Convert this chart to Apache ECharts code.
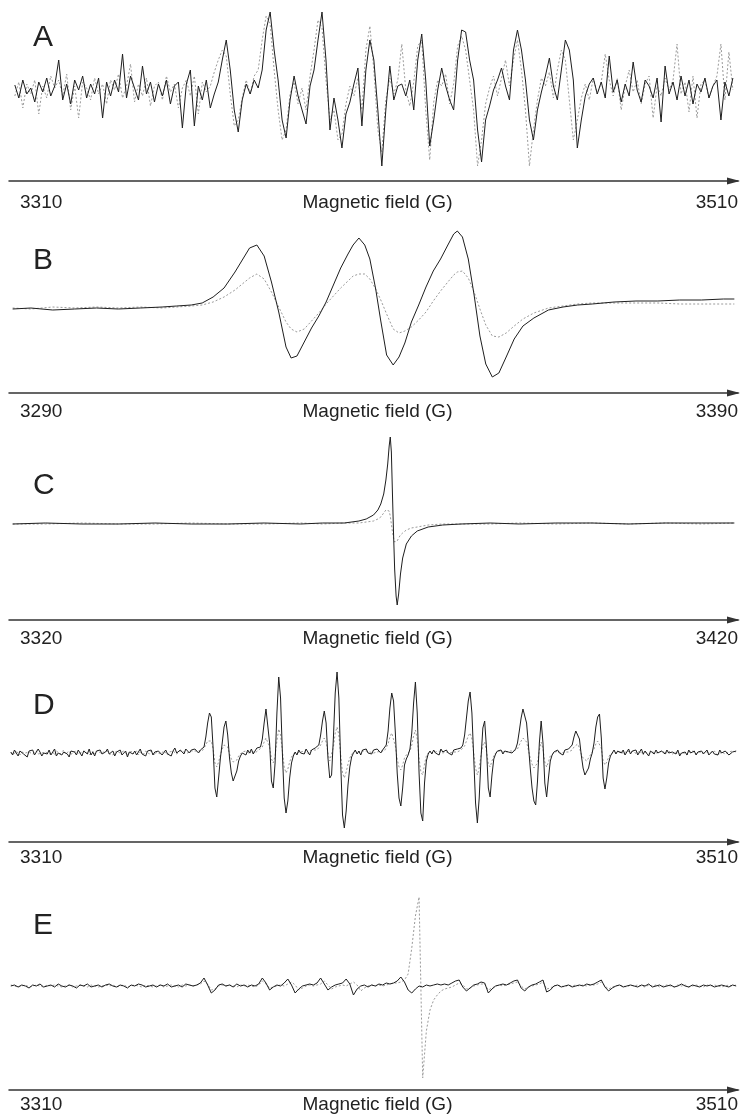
<!DOCTYPE html>
<html>
<head>
<meta charset="utf-8">
<title>EPR spectra</title>
<script src="https://cdn.jsdelivr.net/npm/echarts@6/dist/echarts.min.js"></script>
<style>
    html, body { margin: 0; padding: 0; background: #fff; }
    #chart { width: 742px; height: 1114px; }
</style>
</head>
<body>
<div id="chart"></div>
<script>
// axis end labels of each panel (G)
var ticksA = [3310, 3510];
var ticksB = [3290, 3390];
var ticksC = [3320, 3420];
var ticksD = [3310, 3510];
var ticksE = [3310, 3510];
var fieldName = 'Magnetic field (G)';

// A: evenly swept field, first and last point
var sweepA = [3311.6, 3508.6];
var solidA = [
    5,-8,10,-4,2,-12,8,-2,12,-6,4,30,-10,6,-14,10,0,14,-8,6,
    -4,12,-28,8,-6,10,-2,36,-8,14,2,-10,24,-4,8,-12,6,-6,10,-14,
    4,8,-38,6,20,-36,4,-10,10,-18,-4,8,30,50,20,-20,-42,-10,6,-4,
    10,2,20,60,78,40,10,-30,-48,-10,14,-6,-20,-34,4,20,50,78,30,-40,
    -8,-30,-58,-24,-12,6,22,-36,20,50,30,-20,-76,-20,24,-10,4,6,-6,10,
    -20,30,56,10,-56,-30,0,22,4,-10,-20,30,60,58,30,10,-40,-72,-30,-16,
    0,10,22,4,-10,40,60,40,10,-30,-50,-20,-2,14,32,4,-10,20,50,40,
    10,-58,-30,-6,6,12,-4,8,-8,34,-2,10,-12,6,-6,28,0,-12,10,4,
    -8,12,-32,24,-4,8,-10,14,-6,10,-14,6,-2,12,-8,4,10,-30,8,-6,
    12
];
var dottedA = [
    -6,8,-18,6,-4,10,-24,4,-8,14,2,10,-6,16,-20,4,-28,8,2,-10,
    12,-4,6,-14,10,0,16,-8,4,26,-12,6,-6,12,-16,4,8,-10,14,-2,
    6,-18,2,10,-6,14,-24,8,-2,4,18,30,40,34,-4,-36,-30,-8,10,-4,
    14,20,50,74,66,20,-20,-50,-40,-4,8,-14,2,-20,14,40,70,62,10,-30,
    -20,-50,-44,-14,4,-6,12,-20,40,64,20,-40,-62,-10,12,-4,10,46,0,-16,
    8,44,50,-20,-70,-12,10,4,16,-14,6,44,54,40,10,-20,-76,-50,-14,2,
    14,-6,12,30,4,30,50,20,-20,-76,-40,-10,12,4,18,-8,20,40,30,-10,
    -50,-30,-8,6,-10,12,-4,8,36,10,-6,12,-20,4,20,-2,10,-14,6,14,
    -28,4,-6,12,0,10,46,-4,8,-22,14,-28,6,10,-8,4,14,46,-10,38,
    0
];

// B: three broad lines
var fieldB = [
    3290.5, 3293, 3296, 3299, 3302, 3305, 3308, 3311, 3313, 3315,
    3316.5, 3318, 3319.5, 3321, 3322, 3323, 3324, 3325, 3326, 3327,
    3328, 3328.7, 3329.5, 3330.5, 3331.5, 3332.5, 3333.5, 3334.5, 3335.5, 3336.5,
    3337.2, 3338, 3338.8, 3339.5, 3340.3, 3341, 3341.8, 3342.7, 3343.5, 3344.3,
    3345.2, 3346.2, 3347.2, 3348.2, 3349.2, 3350.2, 3351, 3351.5, 3352.2, 3353,
    3353.8, 3354.6, 3355.4, 3356.3, 3357.2, 3358.2, 3359.3, 3360.5, 3362, 3364,
    3366, 3368, 3370, 3373, 3376, 3379, 3382, 3385, 3388, 3389.5
];
var solidB = [
    0, 1, -1, 0, 1, 0, 1, 2, 3, 4,
    6, 12, 21, 37, 49, 61, 64, 53, 27, -3,
    -38, -49, -47, -33, -19, -7, 7, 24, 41, 55,
    64, 71, 64, 50, 20, -12, -46, -56, -48, -34,
    -13, 4, 22, 38, 50, 64, 75, 78, 72, 50,
    14, -27, -55, -68, -64, -48, -30, -17, -9, -1,
    2, 4, 5, 7, 8, 8, 9, 9, 10, 10
];
var dottedB = [
    1, 0, 2, 1, 2, 1, 2, 1, 2, 3,
    4, 7, 12, 19, 25, 31, 35, 30, 17, 2,
    -13, -20, -23, -20, -12, -4, 5, 13, 21, 28,
    33, 35, 35, 30, 20, 9, -5, -20, -24, -22,
    -18, -11, -3, 8, 18, 27, 34, 37, 38, 31,
    17, 0, -16, -27, -28, -24, -17, -10, -4, 1,
    3, 5, 6, 6, 6, 6, 5, 5, 5, 5
];

// C: one narrow line
var fieldC = [
    3320.5, 3325, 3330, 3335, 3340, 3345, 3350, 3355, 3360, 3363,
    3366, 3368, 3369, 3370, 3370.6, 3371, 3371.4, 3371.7, 3371.95, 3372.15,
    3372.3, 3372.45, 3372.6, 3372.75, 3372.9, 3373.1, 3373.25, 3373.45, 3373.7, 3374,
    3374.5, 3375.2, 3376, 3377.5, 3379.5, 3382, 3386, 3390, 3395, 3400,
    3405, 3410, 3415, 3419.5
];
var solidC = [
    0, 1, 0, 0, 1, 0, 0, 1, 0, 1,
    1, 3, 5, 9, 14, 20, 30, 44, 60, 78,
    87, 72, 30, -10, -45, -72, -81, -70, -50, -34,
    -20, -12, -7, -3, -1, 0, 1, 0, 1, 1,
    0, 1, 1, 1
];
var dottedC = [
    0, 0, 1, 0, 0, 1, 0, 0, 1, 0,
    1, 1, 2, 3, 5, 7, 11, 14, 16, 13,
    8, 0, -8, -14, -18, -19, -17, -14, -11, -9,
    -6, -4, -3, -1, 0, 0, 0, 1, 0, 1,
    0, 1, 0, 1
];

// D: seven doublets, 0.5 G steps
var sweepD = [3310.5, 3509.5];
var solidD = [
    1,-2,3,0,-3,2,4,-1,1,-4,2,0,3,-2,-1,4,1,-3,0,2,
    -1,3,-2,1,4,-3,0,2,-2,1,3,-1,-4,2,0,1,-2,3,1,-3,
    2,0,-1,4,-2,1,-3,2,0,3,-1,-2,1,4,-1,0,2,-3,1,-1,
    3,-2,0,2,-4,1,3,-1,2,-2,0,4,-1,1,-3,2,0,3,-2,1,
    -1,2,4,-2,0,3,-1,1,-3,2,5,0,-2,3,1,-1,4,2,0,3,
    1,4,2,0,3,2,6,16,30,40,36,5,-35,-44,-25,-5,10,26,32,18,
    -5,-20,-28,-29,-18,-8,-3,0,2,-2,3,0,4,-1,2,5,3,6,14,30,
    44,46,10,-28,-35,-10,40,76,55,0,-45,-60,-48,-25,-10,-3,1,-2,3,0,
    2,-1,4,1,-2,3,2,5,4,8,18,32,42,30,-5,-25,-22,15,60,81,
    55,-10,-62,-75,-58,-32,-14,-4,0,3,-1,2,-2,3,1,4,0,2,-1,3,
    1,4,2,0,3,2,8,22,45,60,52,20,-20,-45,-53,-35,-12,-6,-2,4,
    20,50,71,40,-20,-60,-68,-30,-8,-1,2,-1,3,0,2,-2,4,1,-1,3,
    0,2,-2,3,1,4,2,5,8,18,35,52,61,40,-5,-50,-70,-45,-5,25,
    32,5,-35,-44,-22,-6,-1,2,0,3,-1,2,4,1,3,0,2,4,10,22,
    35,44,46,30,8,-15,-35,-48,-52,-28,10,32,10,-30,-44,-25,-8,-2,1,-1,
    3,0,2,-2,3,1,4,3,8,16,22,24,14,-2,-15,-22,-23,-15,-6,0,
    10,26,36,39,15,-25,-36,-25,-10,-3,0,3,-1,2,4,0,3,-2,1,4,
    -1,2,0,3,-2,1,4,-1,2,0,-3,2,1,-1,3,0,-2,2,1,-1,
    3,0,-2,1,2,-1,3,-3,0,2,1,-2,3,0,-1,2,-2,1,0,2,
    -1,1,3,-2,0,2,-1,1,-2,3,0,-1,2,1,-2,0,1,-1,2
];
var dottedD = [
    0,1,-1,2,0,-2,1,2,0,-1,1,2,-1,0,2,-1,1,0,-2,1,
    2,-1,0,1,-2,2,0,-1,1,3,-1,0,2,-2,1,0,2,-1,0,1,
    -1,2,1,-2,0,2,-1,1,3,0,-2,1,0,2,-1,1,-2,0,2,1,
    0,-1,2,1,-2,0,2,-1,1,2,-2,1,0,-1,2,1,-1,2,0,-2,
    1,2,-1,0,2,1,-2,1,0,2,3,-1,1,2,0,1,2,0,1,2,
    1,2,1,2,1,2,4,8,12,14,12,4,-10,-14,-9,-2,4,8,10,6,
    -1,-6,-9,-10,-7,-3,-1,1,0,2,1,-1,2,1,0,2,3,3,6,11,
    15,16,6,-6,-10,-3,12,24,18,2,-14,-20,-16,-9,-4,-1,1,0,2,1,
    0,2,1,-1,2,1,3,2,3,5,8,12,15,11,0,-8,-7,6,20,26,
    18,-2,-20,-25,-19,-11,-5,-1,1,2,0,1,-1,2,1,2,0,1,2,0,
    2,1,0,2,1,2,4,9,16,20,18,7,-6,-14,-17,-12,-5,-2,0,2,
    8,17,23,14,-5,-19,-22,-11,-3,0,1,0,2,1,-1,2,1,0,2,1,
    1,0,2,1,2,1,2,3,4,7,12,17,20,14,0,-15,-22,-15,-2,8,
    11,2,-11,-14,-8,-3,0,1,2,0,1,2,1,0,2,1,2,1,4,8,
    12,15,16,11,3,-5,-11,-15,-17,-10,3,11,4,-9,-14,-9,-3,-1,0,1,
    2,1,0,2,1,2,1,2,3,6,8,9,5,-1,-5,-7,-8,-5,-2,0,
    4,9,12,13,5,-8,-12,-9,-4,-1,0,1,2,0,1,2,-1,1,2,0,
    1,0,2,-1,1,2,0,-2,1,2,-1,0,1,2,0,-1,1,0,2,-1,
    0,2,1,-1,0,1,2,-1,1,0,2,-2,1,0,2,1,-1,0,1,2,
    0,-1,1,2,0,-1,2,1,-2,0,1,2,-1,0,1,-1,2,0,1
];

// E: weak lines, 1 G steps
var sweepE = [3310.5, 3509.5];
var solidE = [
    0,1,-1,1,0,-2,1,0,2,-1,0,1,-1,2,0,-1,1,0,-2,1,
    0,2,-1,0,1,-1,1,2,0,-1,1,0,-2,1,0,2,1,-1,0,1,
    -1,1,0,2,-1,0,1,-1,2,1,0,1,3,8,1,-7,-4,1,2,0,
    1,-1,2,0,1,-1,1,0,2,8,3,-4,-1,1,0,3,7,1,-7,-3,
    0,1,2,1,3,8,2,-4,-1,1,2,3,7,2,-9,-3,0,1,-1,1,
    0,2,1,3,2,3,5,9,4,-4,-7,-3,0,-1,1,0,1,2,1,2,
    1,3,5,6,-1,-5,-2,1,2,4,3,-7,-3,0,1,2,1,3,5,6,
    -2,-5,-1,1,2,4,6,-6,-4,0,1,-1,0,1,-1,0,1,0,2,1,
    2,4,6,-1,-5,-2,0,1,-1,0,1,0,-1,1,0,2,-1,0,1,-1,
    0,1,-1,0,2,0,-1,1,0,-1,1,0,1,-1,0,1,0,-1,1,0
];
var dottedE = [
    1,0,-1,0,1,-1,0,1,0,-1,1,0,1,0,-1,0,1,-1,0,1,
    0,-1,1,0,-1,0,1,0,1,-1,0,1,-1,0,1,0,-1,1,0,-1,
    0,1,-1,0,1,0,-1,1,0,1,0,1,2,5,2,-4,-3,0,1,0,
    1,0,-1,1,0,1,0,-1,1,5,2,-2,-1,0,1,0,2,4,1,-4,
    -2,0,1,0,1,2,5,1,-3,-1,0,1,0,2,4,1,-5,-2,0,1,
    0,1,0,1,2,3,3,4,6,12,38,70,89,-92,-45,-24,-14,-9,-5,-3,
    -2,-1,1,3,1,-3,-2,0,1,2,2,-4,-2,0,1,0,1,2,3,4,
    0,-3,-1,0,1,2,4,-3,-2,0,1,0,-1,1,0,1,0,1,0,1,
    1,2,4,0,-3,-1,0,1,0,-1,1,0,1,0,-1,1,0,1,-1,0,
    1,0,-1,1,0,1,-1,0,1,0,-1,1,0,1,0,-1,0,1,0,1
];

function sweepPairs(sweep, values) {
    var data = [];
    var n = values.length;
    for (var i = 0; i < n; i++) {
        data.push([sweep[0] + (sweep[1] - sweep[0]) * i / (n - 1), values[i]]);
    }
    return data;
}

function fieldPairs(field, values) {
    var data = [];
    for (var i = 0; i < values.length; i++) {
        data.push([field[i], values[i]]);
    }
    return data;
}

var font = "'Liberation Sans', Arial, Helvetica, sans-serif";

// layout in px: grid top, axis line y, y range, label gap, letter top
var panels = [
    {letter: 'A', ticks: ticksA, top: 0, axisY: 181, yMin: -91, yMax: 90, gap: 12, letterTop: 18,
        solid: sweepPairs(sweepA, solidA), dotted: sweepPairs(sweepA, dottedA)},
    {letter: 'B', ticks: ticksB, top: 209, axisY: 393, yMin: -84, yMax: 100, gap: 9, letterTop: 241,
        solid: fieldPairs(fieldB, solidB), dotted: fieldPairs(fieldB, dottedB)},
    {letter: 'C', ticks: ticksC, top: 424, axisY: 620, yMin: -96, yMax: 100, gap: 9, letterTop: 466,
        solid: fieldPairs(fieldC, solidC), dotted: fieldPairs(fieldC, dottedC)},
    {letter: 'D', ticks: ticksD, top: 663, axisY: 842, yMin: -89, yMax: 90, gap: 6, letterTop: 686,
        solid: sweepPairs(sweepD, solidD), dotted: sweepPairs(sweepD, dottedD)},
    {letter: 'E', ticks: ticksE, top: 886, axisY: 1090, yMin: -104, yMax: 100, gap: 5, letterTop: 906,
        solid: sweepPairs(sweepE, solidE), dotted: sweepPairs(sweepE, dottedE)}
];

var dom = document.getElementById('chart');
var myChart = echarts.init(dom, null, {renderer: 'canvas'});

var option = {
    animation: false,
    backgroundColor: '#fff',
    title: [],
    grid: [],
    xAxis: [],
    yAxis: [],
    series: []
};

panels.forEach(function (p, k) {
    option.title.push({
        text: p.letter,
        left: 28,
        top: p.letterTop,
        textStyle: {fontSize: 30, fontWeight: 'normal', color: '#222', fontFamily: font}
    });
    option.grid.push({
        left: 9,
        right: 4,
        top: p.top,
        height: p.axisY - p.top,
        outerBoundsMode: 'none'
    });
    option.xAxis.push({
        gridIndex: k,
        type: 'value',
        min: p.ticks[0],
        max: p.ticks[1],
        interval: p.ticks[1] - p.ticks[0],
        axisLine: {
            show: true,
            onZero: false,
            symbol: ['none', 'triangle'],
            symbolSize: [7, 13],
            symbolOffset: [0, -4.5],
            lineStyle: {color: '#333', width: 1.5}
        },
        axisTick: {show: false},
        splitLine: {show: false},
        axisLabel: {
            showMinLabel: true,
            showMaxLabel: true,
            alignMinLabel: 'left',
            alignMaxLabel: 'right',
            padding: [0, 0, 0, 11],
            margin: p.gap,
            fontSize: 19,
            color: '#222',
            fontFamily: font,
            formatter: function (v) {
                return String(v);
            }
        },
        name: fieldName,
        nameLocation: 'middle',
        nameGap: p.gap,
        nameMoveOverlap: false,
        nameTextStyle: {fontSize: 19, color: '#222', fontFamily: font, padding: [0, 0, 0, 8]}
    });
    option.yAxis.push({
        gridIndex: k,
        type: 'value',
        min: p.yMin,
        max: p.yMax,
        show: false
    });
    option.series.push({
        type: 'line',
        xAxisIndex: k,
        yAxisIndex: k,
        data: p.dotted,
        showSymbol: false,
        symbol: 'none',
        silent: true,
        lineStyle: {color: '#9a9a9a', width: 1, type: [2, 2]}
    });
    option.series.push({
        type: 'line',
        xAxisIndex: k,
        yAxisIndex: k,
        data: p.solid,
        showSymbol: false,
        symbol: 'none',
        silent: true,
        lineStyle: {color: '#1e1e1e', width: 1}
    });
});

myChart.setOption(option);
window.addEventListener('resize', myChart.resize);
</script>
</body>
</html>
